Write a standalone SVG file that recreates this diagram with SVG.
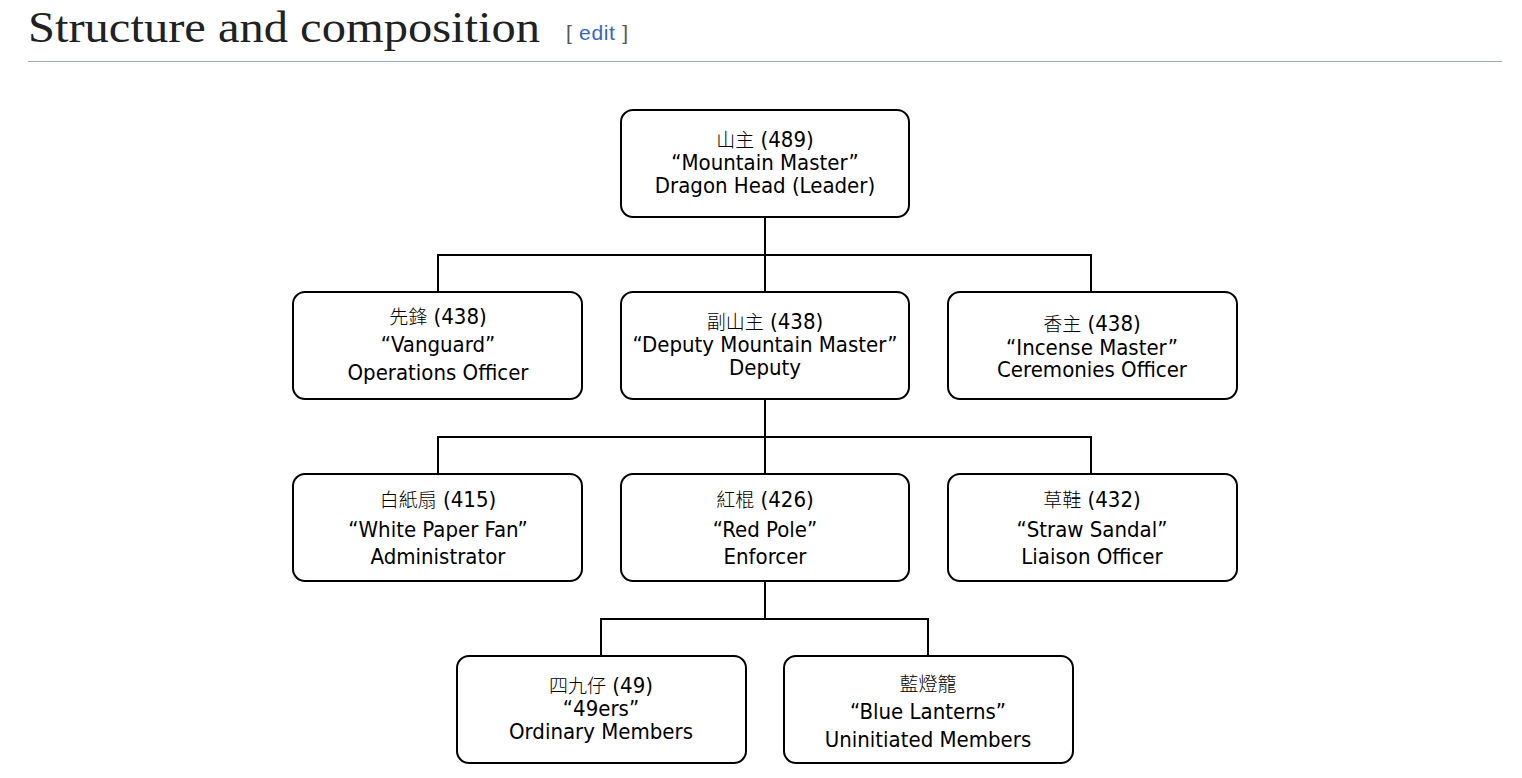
<svg xmlns="http://www.w3.org/2000/svg" width="1522" height="778" viewBox="0 0 1522 778">
<style>
.box{fill:#fff;stroke:#000;stroke-width:2}
.t{font-family:"DejaVu Sans Condensed","DejaVu Sans","Noto Sans CJK TC",sans-serif;font-size:22px;fill:#000;text-anchor:middle}
.c{font-family:"Noto Sans CJK TC",serif;font-size:19px;font-weight:300}
.conn{fill:none;stroke:#000;stroke-width:2}
</style>
<rect width="1522" height="778" fill="#fff"/>
<text x="28" y="42" font-family="Liberation Serif,serif" font-size="44" fill="#202122" textLength="512" lengthAdjust="spacingAndGlyphs">Structure and composition</text>
<text x="566" y="40" font-family="Liberation Sans,sans-serif" font-size="21" fill="#54595d" textLength="62">[ <tspan fill="#3366cc">edit</tspan> ]</text>
<line x1="28" y1="61.5" x2="1502" y2="61.5" stroke="#a2a9b1" stroke-width="1"/>
<g id="connectors">
<path class="conn" d="M765 217V255M438 292V255H1091V292M765 255V292"/>
<path class="conn" d="M765 399V437M438 474V437H1091V474M765 437V474"/>
<path class="conn" d="M765 581V619M601 656V619H928V656"/>
</g>
<g id="n1"><rect class="box" x="621" y="110" width="288" height="107" rx="12"/>
<text class="t" x="765" y="147"><tspan class="c">山主</tspan> (489)</text>
<text class="t" x="765" y="170">“Mountain Master”</text>
<text class="t" x="765" y="193">Dragon Head (Leader)</text></g>
<g id="n2"><rect class="box" x="293" y="292" width="289" height="107" rx="12"/>
<text class="t" x="438" y="324"><tspan class="c">先鋒</tspan> (438)</text>
<text class="t" x="438" y="352">“Vanguard”</text>
<text class="t" x="438" y="380">Operations Officer</text></g>
<g id="n3"><rect class="box" x="621" y="292" width="288" height="107" rx="12"/>
<text class="t" x="765" y="329"><tspan class="c">副山主</tspan> (438)</text>
<text class="t" x="765" y="352">“Deputy Mountain Master”</text>
<text class="t" x="765" y="375">Deputy</text></g>
<g id="n4"><rect class="box" x="948" y="292" width="289" height="107" rx="12"/>
<text class="t" x="1092" y="331"><tspan class="c">香主</tspan> (438)</text>
<text class="t" x="1092" y="355">“Incense Master”</text>
<text class="t" x="1092" y="377">Ceremonies Officer</text></g>
<g id="n5"><rect class="box" x="293" y="474" width="289" height="107" rx="12"/>
<text class="t" x="438" y="507"><tspan class="c">白紙扇</tspan> (415)</text>
<text class="t" x="438" y="537">“White Paper Fan”</text>
<text class="t" x="438" y="564">Administrator</text></g>
<g id="n6"><rect class="box" x="621" y="474" width="288" height="107" rx="12"/>
<text class="t" x="765" y="507"><tspan class="c">紅棍</tspan> (426)</text>
<text class="t" x="765" y="537">“Red Pole”</text>
<text class="t" x="765" y="564">Enforcer</text></g>
<g id="n7"><rect class="box" x="948" y="474" width="289" height="107" rx="12"/>
<text class="t" x="1092" y="507"><tspan class="c">草鞋</tspan> (432)</text>
<text class="t" x="1092" y="537">“Straw Sandal”</text>
<text class="t" x="1092" y="564">Liaison Officer</text></g>
<g id="n8"><rect class="box" x="457" y="656" width="289" height="107" rx="12"/>
<text class="t" x="601" y="693"><tspan class="c">四九仔</tspan> (49)</text>
<text class="t" x="601" y="716">“49ers”</text>
<text class="t" x="601" y="739">Ordinary Members</text></g>
<g id="n9"><rect class="box" x="784" y="656" width="289" height="107" rx="12"/>
<text class="t" x="928" y="691"><tspan class="c">藍燈籠</tspan></text>
<text class="t" x="928" y="719">“Blue Lanterns”</text>
<text class="t" x="928" y="747">Uninitiated Members</text></g>
</svg>
